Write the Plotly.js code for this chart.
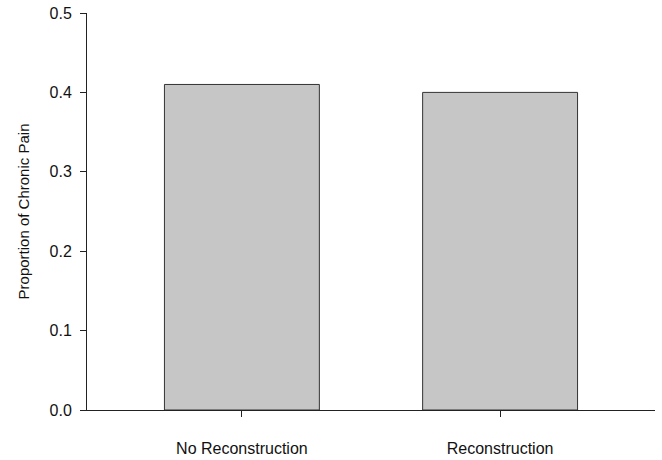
<!DOCTYPE html>
<html><head><meta charset="utf-8">
<script src="https://cdn.plot.ly/plotly-3.0.1.min.js"></script>
<style>html,body{margin:0;padding:0;background:#fff}#c{width:662px;height:460px}</style>
</head><body><div id="c"></div>
<script>
const categories = ["No Reconstruction", "Reconstruction"];
const proportions = [0.41, 0.40];
const yTicks = [0, 0.1, 0.2, 0.3, 0.4, 0.5];
const yTickLabels = ["0.0", "0.1", "0.2", "0.3", "0.4", "0.5"];

Plotly.newPlot("c", [{
  type: "bar",
  x: categories,
  y: proportions,
  width: 0.6,
  marker: {color: "#c6c6c6", line: {color: "#333333", width: 1}},
  hoverinfo: "skip"
}], {
  width: 662, height: 460,
  margin: {l: 87, r: 7, t: 13, b: 50},
  paper_bgcolor: "#fff", plot_bgcolor: "#fff",
  showlegend: false,
  font: {family: "Liberation Sans, Arial, sans-serif", size: 16, color: "#111"},
  xaxis: {
    range: [-0.6, 1.6], showgrid: false, zeroline: false,
    showline: true, linecolor: "#222", linewidth: 1,
    ticks: "outside", ticklen: 6, tickcolor: "#222", tickwidth: 1,
    ticklabelstandoff: 18,
    tickfont: {size: 16}
  },
  yaxis: {
    range: [0, 0.5], showgrid: false, zeroline: false,
    showline: true, linecolor: "#222", linewidth: 1,
    ticks: "outside", ticklen: 6, tickcolor: "#222", tickwidth: 1,
    ticklabelstandoff: 5,
    tickvals: yTicks, ticktext: yTickLabels,
    tickfont: {size: 16},
    title: {text: "Proportion of Chronic Pain", font: {size: 15}, standoff: 16}
  }
}, {staticPlot: true});
</script></body></html>
